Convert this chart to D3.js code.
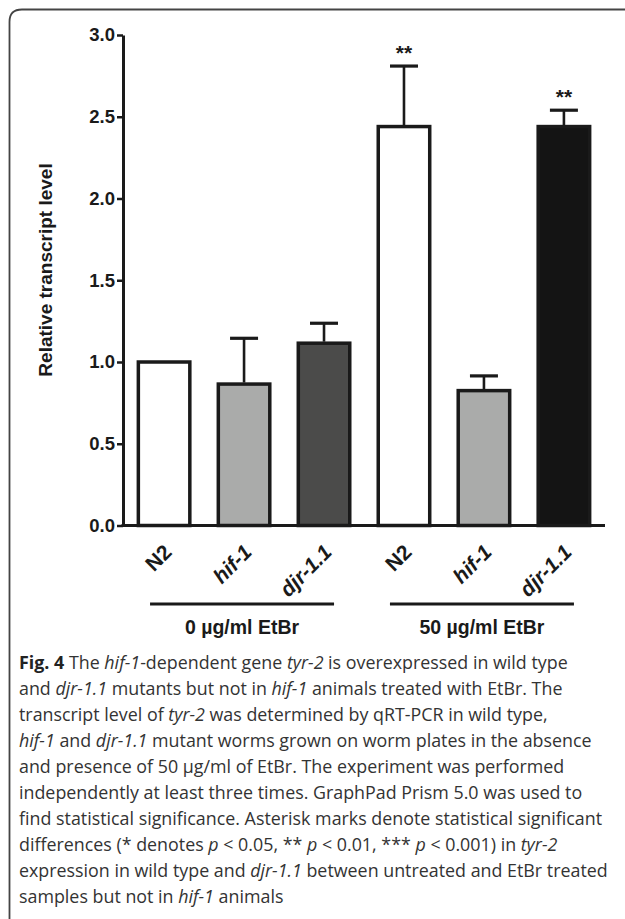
<!DOCTYPE html>
<html>
<head>
<meta charset="utf-8">
<script src="https://cdn.jsdelivr.net/npm/d3@7"></script>
<style>
  body { margin: 0; background: #fff; }
  svg { display: block; }
</style>
</head>
<body>
<svg id="fig" width="625" height="919"></svg>
<script>
// bar data
var categories = ["N2 0", "hif-1 0", "djr-1.1 0", "N2 50", "hif-1 50", "djr-1.1 50"];
var labels = ["N2", "hif-1", "djr-1.1", "N2", "hif-1", "djr-1.1"];
var italicLabel = [false, true, true, false, true, true];
var means = [1.0, 0.865, 1.115, 2.44, 0.825, 2.44];
var errTops = [null, 1.145, 1.237, 2.81, 0.915, 2.54];
var stars = ["", "", "", "**", "", "**"];
var fills = ["#ffffff", "#aaabaa", "#4b4b4a", "#ffffff", "#aaabaa", "#141414"];
var yTicks = [0, 0.5, 1.0, 1.5, 2.0, 2.5, 3.0];
var groups = [
  { name: "0 \u00b5g/ml EtBr", mid: "hif-1 0" },
  { name: "50 \u00b5g/ml EtBr", mid: "hif-1 50" }
];

// caption, one entry per line: [text, style]
var caption = [
  [["Fig. 4", "b"], [" The ", ""], ["hif-1", "i"], ["-dependent gene ", ""], ["tyr-2", "i"], [" is overexpressed in wild type", ""]],
  [["and ", ""], ["djr-1.1", "i"], [" mutants but not in ", ""], ["hif-1", "i"], [" animals treated with EtBr. The", ""]],
  [["transcript level of ", ""], ["tyr-2", "i"], [" was determined by qRT-PCR in wild type,", ""]],
  [["hif-1", "i"], [" and ", ""], ["djr-1.1", "i"], [" mutant worms grown on worm plates in the absence", ""]],
  [["and presence of 50 \u00b5g/ml of EtBr. The experiment was performed", ""]],
  [["independently at least three times. GraphPad Prism 5.0 was used to", ""]],
  [["find statistical significance. Asterisk marks denote statistical significant", ""]],
  [["differences (* denotes ", ""], ["p", "i"], [" < 0.05, ** ", ""], ["p", "i"], [" < 0.01, *** ", ""], ["p", "i"], [" < 0.001) in ", ""], ["tyr-2", "i"]],
  [["expression in wild type and ", ""], ["djr-1.1", "i"], [" between untreated and EtBr treated", ""]],
  [["samples but not in ", ""], ["hif-1", "i"], [" animals", ""]]
];

var svg = d3.select("#fig");
var ink = "#1a1a1a";
var bold = "'Liberation Sans', Arial, sans-serif";

// frame round the figure: top and left edge, rounded corner
svg.append("path")
  .attr("d", "M9.5,919 V22 Q9.5,9.5 22,9.5 H625")
  .attr("fill", "none")
  .attr("stroke", "#444")
  .attr("stroke-width", 1.8);

var plotLeft = 123, plotRight = 605;
var x = d3.scaleBand().domain(categories).range([plotLeft, plotRight])
  .paddingInner(0.3125).paddingOuter(0.17);
var y = d3.scaleLinear().domain([0, 3]).range([525.5, 35]);

// bars
svg.selectAll("rect.bar").data(categories).enter().append("rect")
  .attr("class", "bar")
  .attr("x", function(d) { return x(d) + 1.75; })
  .attr("width", x.bandwidth() - 3.5)
  .attr("y", function(d, i) { return y(means[i]); })
  .attr("height", function(d, i) { return y(0) - y(means[i]); })
  .attr("fill", function(d, i) { return fills[i]; })
  .attr("stroke", ink)
  .attr("stroke-width", 3.5);

// error bars, upper half only
categories.forEach(function(c, i) {
  if (errTops[i] == null) return;
  var cx = x(c) + x.bandwidth() / 2;
  svg.append("line")
    .attr("x1", cx).attr("x2", cx)
    .attr("y1", y(means[i]) - 1.5).attr("y2", y(errTops[i]))
    .attr("stroke", ink).attr("stroke-width", 2.6);
  svg.append("line")
    .attr("x1", cx - 14).attr("x2", cx + 14)
    .attr("y1", y(errTops[i])).attr("y2", y(errTops[i]))
    .attr("stroke", ink).attr("stroke-width", 3.2);
  if (stars[i]) {
    svg.append("text")
      .attr("x", cx).attr("y", y(errTops[i]) - 6)
      .attr("text-anchor", "middle")
      .attr("font-family", bold).attr("font-weight", "bold")
      .attr("font-size", 21).attr("fill", ink)
      .text(stars[i]);
  }
});

// y axis
var yAxis = svg.append("g")
  .attr("transform", "translate(" + plotLeft + ",0)")
  .call(d3.axisLeft(y).tickValues(yTicks).tickFormat(d3.format(".1f")).tickSize(6).tickSizeOuter(0).tickPadding(2));
yAxis.select(".domain").attr("stroke", ink).attr("stroke-width", 3);
yAxis.selectAll(".tick line").attr("stroke", ink).attr("stroke-width", 2.5);
yAxis.selectAll(".tick text")
  .attr("font-family", bold).attr("font-weight", "bold")
  .attr("font-size", 18.5).attr("fill", ink);

// x axis line
svg.append("line")
  .attr("x1", plotLeft - 1.5).attr("x2", plotRight)
  .attr("y1", y(0)).attr("y2", y(0))
  .attr("stroke", ink).attr("stroke-width", 3);

// rotated category labels
categories.forEach(function(c, i) {
  var cx = x(c) + x.bandwidth() / 2 + 9;
  var cy = y(0) + 28;
  svg.append("text")
    .attr("transform", "translate(" + cx + "," + cy + ") rotate(-45)")
    .attr("text-anchor", "end")
    .attr("font-family", bold).attr("font-weight", "bold")
    .attr("font-style", italicLabel[i] ? "italic" : "normal")
    .attr("font-size", 21).attr("fill", ink)
    .text(labels[i]);
});

// group lines and labels
groups.forEach(function(g) {
  var cx = x(g.mid) + x.bandwidth() / 2 - 2;
  svg.append("line")
    .attr("x1", cx - 92).attr("x2", cx + 92)
    .attr("y1", 604).attr("y2", 604)
    .attr("stroke", ink).attr("stroke-width", 3);
  svg.append("text")
    .attr("x", cx).attr("y", 634)
    .attr("text-anchor", "middle")
    .attr("font-family", bold).attr("font-weight", "bold")
    .attr("font-size", 19.5).attr("fill", ink)
    .text(g.name);
});

// y axis title
svg.append("text")
  .attr("transform", "translate(52,270) rotate(-90)")
  .attr("text-anchor", "middle")
  .attr("font-family", bold).attr("font-weight", "bold")
  .attr("font-size", 19).attr("fill", ink)
  .text("Relative transcript level");

// caption
var capG = svg.append("g");
var capLines = caption.map(function(line, li) {
  var t = capG.append("text")
    .attr("x", 0).attr("y", 0)
    .attr("font-family", "'Open Sans', 'Noto Sans', sans-serif")
    .attr("font-size", 18.5).attr("fill", "#333");
  line.forEach(function(seg) {
    t.append("tspan")
      .attr("font-weight", seg[1] === "b" ? "bold" : "normal")
      .attr("font-style", seg[1] === "i" ? "italic" : "normal")
      .attr("fill", seg[1] === "b" ? "#222" : null)
      .text(seg[0]);
  });
  return t;
});
// squeeze to the width of the widest line in the figure
var widest = d3.max(capLines, function(t) { return t.node().getComputedTextLength(); });
var sx = 589 / widest;
capLines.forEach(function(t, li) {
  t.attr("transform", "translate(19," + (669 + li * 26) + ") scale(" + sx + ",1)");
});
</script>
</body>
</html>
